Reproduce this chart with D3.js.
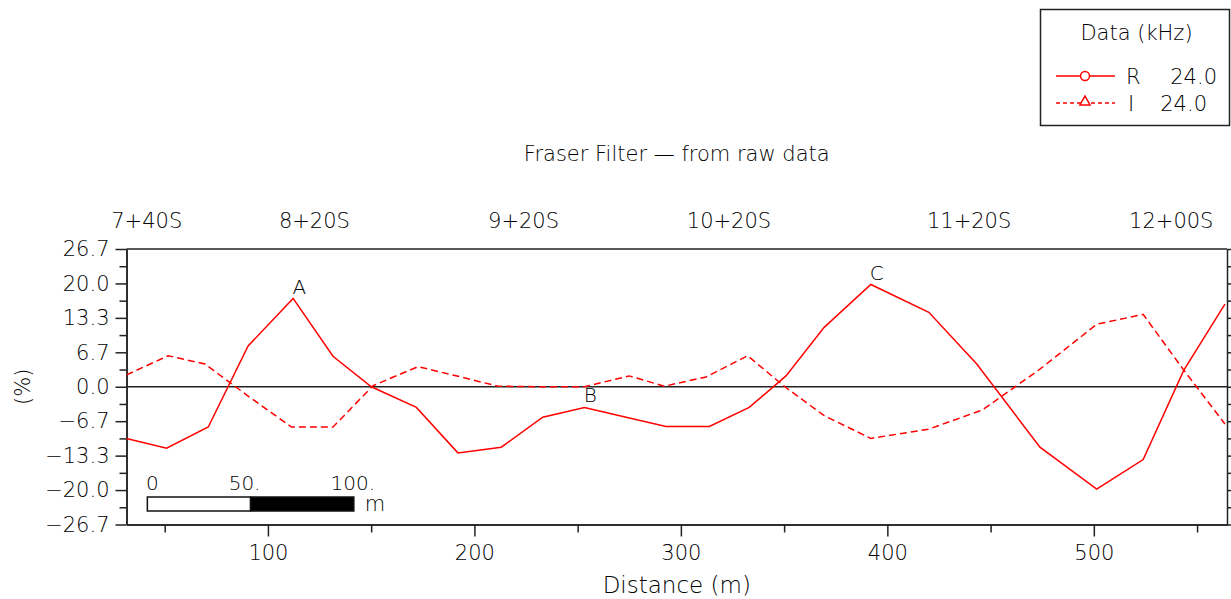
<!DOCTYPE html>
<html>
<head>
<meta charset="utf-8">
<script src="https://cdn.jsdelivr.net/npm/d3@7"></script>
<style>
  body { margin: 0; background: #fff; }
  text { font-family: "DejaVu Sans", sans-serif; font-weight: 200; fill: #000; }
</style>
</head>
<body>
<script>
// survey data, distance in m and response in %
var rDistance = [31.5, 50.9, 71.1, 90.4, 112.2, 131.5, 150.1, 171.9, 192.0, 213.0, 233.1, 253.3, 273.5, 292.8, 313.8, 333.1, 350.9, 369.4, 392.0, 420.1, 443.3, 473.9, 501.4, 523.9, 543.6, 563.5];
var rValue    = [-10.0, -11.9, -7.8, 7.9, 17.1, 5.9, 0.0, -4.0, -12.8, -11.7, -5.9, -4.0, -5.9, -7.7, -7.7, -4.0, 2.1, 11.5, 19.8, 14.4, 4.4, -11.7, -19.8, -14.1, 3.2, 16.0];

var iDistance = [31.5, 51.7, 69.5, 90.4, 111.4, 131.5, 150.9, 172.7, 194.4, 211.4, 233.1, 253.3, 275.0, 292.0, 312.2, 332.3, 351.0, 369.4, 392.0, 420.1, 446.0, 473.9, 501.4, 523.9, 543.6, 563.5];
var iValue    = [2.3, 6.0, 4.4, -1.8, -7.8, -7.8, 0.2, 3.9, 1.8, 0.1, 0.0, 0.0, 2.1, 0.1, 1.9, 6.0, -0.2, -5.6, -10.0, -8.2, -4.5, 3.4, 12.1, 14.0, 3.2, -7.2];

var xMajorTicks = [100, 200, 300, 400, 500];
var xMinorTicks = [50, 150, 250, 350, 450, 550];
var yMajorTicks = [-80/3, -20, -40/3, -20/3, 0, 20/3, 40/3, 20, 80/3];
var yTickLabels = ["\u221226.7", "\u221220.0", "\u221213.3", "\u22126.7", "0.0", "6.7", "13.3", "20.0", "26.7"];
var yMinorTicks = [-70/3, -50/3, -10, -10/3, 10/3, 10, 50/3, 70/3];

var stationLabels = ["7+40S", "8+20S", "9+20S", "10+20S", "11+20S", "12+00S"];
var stationDistance = [41.3, 122.5, 223.8, 323.3, 439.6, 537.5];

var peakLabels = ["A", "B", "C"];
var peakDistance = [115.2, 256.1, 394.8];
var peakValue = [19.3, -1.6, 22.1];

var scaleBarStart = 41.6;
var scaleBarLabels = ["0", "50.", "100."];
var scaleBarSteps = [0, 50, 100];

var legendNames = ["R", "I"];
var legendFreq = ["24.0", "24.0"];

var width = 1231, height = 599;
var plot = { left: 126.5, right: 1227, top: 249, bottom: 524.5 };

var svg = d3.select('body').append('svg')
  .attr('width', width).attr('height', height);

var x = d3.scaleLinear().domain([31.5, 564.5]).range([plot.left, plot.right]);
var y = d3.scaleLinear().domain([-80/3, 80/3]).range([plot.bottom, plot.top]);

var axisColor = '#222';

// frame top
svg.append('line').attr('x1', plot.left).attr('x2', plot.right)
  .attr('y1', plot.top).attr('y2', plot.top)
  .attr('stroke', axisColor).attr('stroke-width', 1.5);

// bottom axis
var gx = svg.append('g').attr('transform', 'translate(0,' + plot.bottom + ')');
gx.call(d3.axisBottom(x).tickValues(xMajorTicks).tickSize(12).tickSizeOuter(0).tickPadding(9).tickFormat(d3.format('d')));
gx.append('g').call(d3.axisBottom(x).tickValues(xMinorTicks).tickSize(8).tickSizeOuter(0).tickFormat(''));

// left axis
var gy = svg.append('g').attr('transform', 'translate(' + plot.left + ',0)');
gy.call(d3.axisLeft(y).tickValues(yMajorTicks).tickSize(11).tickSizeOuter(0).tickPadding(6)
  .tickFormat(function(d, i) { return yTickLabels[i]; }));
gy.append('g').call(d3.axisLeft(y).tickValues(yMinorTicks).tickSize(7).tickSizeOuter(0).tickFormat(''));

// right axis
var gr = svg.append('g').attr('transform', 'translate(' + plot.right + ',0)');
gr.call(d3.axisRight(y).tickValues(yMajorTicks.concat(yMinorTicks)).tickSize(5).tickSizeOuter(0).tickFormat(''));

svg.selectAll('.domain').attr('stroke', axisColor).attr('stroke-width', 1.5);
svg.selectAll('.tick line').attr('stroke', axisColor).attr('stroke-width', 1.5);
svg.selectAll('.tick text').style('font-size', '21px').attr('fill', '#000')
  .style('font-family', '"DejaVu Sans", sans-serif');

// zero line
svg.append('line').attr('x1', plot.left).attr('x2', plot.right)
  .attr('y1', y(0)).attr('y2', y(0))
  .attr('stroke', axisColor).attr('stroke-width', 1.5);

// series
var line = d3.line().x(function(d) { return x(d[0]); }).y(function(d) { return y(d[1]); });

svg.append('path')
  .datum(rDistance.map(function(d, i) { return [d, rValue[i]]; }))
  .attr('d', line).attr('fill', 'none').attr('stroke', '#ff0000').attr('stroke-width', 1.5);

svg.append('path')
  .datum(iDistance.map(function(d, i) { return [d, iValue[i]]; }))
  .attr('d', line).attr('fill', 'none').attr('stroke', '#ff0000').attr('stroke-width', 1.5)
  .attr('stroke-dasharray', '7,4');

// peak letters
svg.selectAll('.peak').data(peakLabels).enter().append('text')
  .attr('class', 'peak')
  .attr('x', function(d, i) { return x(peakDistance[i]); })
  .attr('y', function(d, i) { return y(peakValue[i]); })
  .attr('text-anchor', 'middle').attr('dy', '0.36em')
  .style('font-size', '20px')
  .text(function(d) { return d; });

// station labels on top
svg.selectAll('.station').data(stationLabels).enter().append('text')
  .attr('class', 'station')
  .attr('x', function(d, i) { return x(stationDistance[i]); })
  .attr('y', 228)
  .attr('text-anchor', 'middle')
  .style('font-size', '21px')
  .text(function(d) { return d; });

// titles
svg.append('text').attr('x', (plot.left + plot.right) / 2).attr('y', 161)
  .attr('text-anchor', 'middle').style('font-size', '21px')
  .text('Fraser Filter \u2014 from raw data');

svg.append('text').attr('x', (plot.left + plot.right) / 2).attr('y', 593)
  .attr('text-anchor', 'middle').style('font-size', '23px')
  .text('Distance (m)');

svg.append('text')
  .attr('transform', 'translate(30,' + y(0) + ') rotate(-90)')
  .attr('text-anchor', 'middle').style('font-size', '21px')
  .text('(%)');

// scale bar
var barTop = 497, barH = 14;
svg.append('rect').attr('x', x(scaleBarStart)).attr('y', barTop)
  .attr('width', x(scaleBarStart + 50) - x(scaleBarStart)).attr('height', barH)
  .attr('fill', '#fff').attr('stroke', '#111').attr('stroke-width', 1.5);
svg.append('rect').attr('x', x(scaleBarStart + 50)).attr('y', barTop)
  .attr('width', x(scaleBarStart + 100) - x(scaleBarStart + 50)).attr('height', barH)
  .attr('fill', '#000').attr('stroke', '#111').attr('stroke-width', 1.5);
svg.selectAll('.sb').data(scaleBarLabels).enter().append('text')
  .attr('class', 'sb')
  .attr('x', function(d, i) { return x(scaleBarStart + scaleBarSteps[i]) + (i === 0 ? 5 : (i === 1 ? -6 : -1)); })
  .attr('y', 490).attr('text-anchor', 'middle').style('font-size', '20px')
  .text(function(d) { return d; });
svg.append('text').attr('x', x(scaleBarStart + 100) + 11).attr('y', 511)
  .style('font-size', '21px').text('m');

// legend
var lg = svg.append('g');
lg.append('rect').attr('x', 1040.5).attr('y', 9.5).attr('width', 189).attr('height', 116)
  .attr('fill', '#fff').attr('stroke', '#222').attr('stroke-width', 1.5);
lg.append('text').attr('x', 1136.5).attr('y', 40).attr('text-anchor', 'middle')
  .style('font-size', '21px').text('Data (kHz)');

var rowY = [76, 103];
lg.append('line').attr('x1', 1056).attr('x2', 1115).attr('y1', rowY[0]).attr('y2', rowY[0])
  .attr('stroke', '#ff0000').attr('stroke-width', 1.5);
lg.append('circle').attr('cx', 1085).attr('cy', rowY[0]).attr('r', 4.5)
  .attr('fill', '#fff').attr('stroke', '#ff0000').attr('stroke-width', 1.5);
lg.append('line').attr('x1', 1056).attr('x2', 1115).attr('y1', rowY[1]).attr('y2', rowY[1])
  .attr('stroke', '#ff0000').attr('stroke-width', 1.5).attr('stroke-dasharray', '4,3');
lg.append('path')
  .attr('d', d3.symbol().type(d3.symbolTriangle).size(45)())
  .attr('transform', 'translate(1085,' + (rowY[1] - 1) + ')')
  .attr('fill', '#fff').attr('stroke', '#ff0000').attr('stroke-width', 1.5);

var nameX = [1126, 1128], freqX = [1217, 1207];
legendNames.forEach(function(n, i) {
  lg.append('text').attr('x', nameX[i]).attr('y', rowY[i] + 8).style('font-size', '21px').text(n);
  lg.append('text').attr('x', freqX[i]).attr('y', rowY[i] + 8).attr('text-anchor', 'end')
    .style('font-size', '21px').text(legendFreq[i]);
});
</script>
</body>
</html>
